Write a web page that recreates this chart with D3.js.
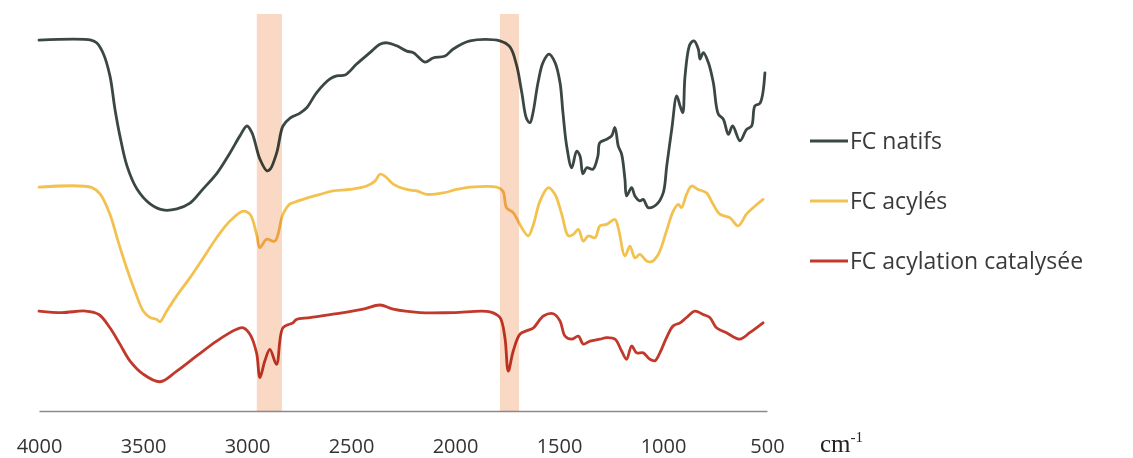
<!DOCTYPE html>
<html>
<head>
<meta charset="utf-8">
<script src="https://cdn.jsdelivr.net/npm/d3@7"></script>
<style>
  html, body { margin: 0; padding: 0; background: #fff; }
  svg { display: block; }
</style>
</head>
<body>
<svg id="chart" width="1133" height="458"></svg>
<script>
// FTIR spectra, wavenumber (cm-1) vs. stacked transmittance (a.u.)
const xTicks = [4000, 3500, 3000, 2500, 2000, 1500, 1000, 500];

const wnNatifs = [4000,3750,3723,3692,3659,3635,3611,3577,3529,3466,3404,3337,3274,3212,3144,3082,3034,3000,2976,2938,2904,2889,2857,2827,2793,2745,2713,2665,2601,2569,2529,2473,2409,2361,2328,2280,2232,2200,2144,2106,2048,2010,1928,1784,1736,1703,1679,1655,1639,1625,1601,1577,1548,1519,1495,1481,1463,1439,1415,1399,1385,1367,1337,1313,1304,1271,1247,1231,1215,1199,1183,1175,1151,1135,1111,1095,1071,1030,999,982,958,934,918,905,894,870,851,830,822,806,782,758,734,710,686,665,630,598,574,558,534,510];
const tNatifs = [97.6,97.6,96.9,94.2,88.2,79.5,72.4,64.5,58.4,54.5,52.9,53.2,54.7,58.4,62.6,67.9,72.4,75.0,73.2,66.3,63.2,63.6,68.0,75.0,77.1,78.4,79.8,83.8,87.4,88.2,88.4,91.3,94.3,96.5,96.9,96.1,94.7,94.3,91.8,92.9,93.4,95.2,97.4,97.4,95.8,90.8,83.8,76.8,75.9,78.5,86.4,91.7,93.9,91.7,86.4,78.5,69.7,64.0,68.4,67.1,62.4,64.0,63.6,67.1,70.6,71.5,72.4,74.6,69.7,67.6,61.0,56.6,58.8,56.6,55.3,55.7,53.5,54.4,57.4,64.5,74.1,82.9,80.3,78.5,88.2,96.5,97.4,95.2,92.6,94.3,91.7,86.4,78.1,76.8,72.8,75.0,71.1,74.1,75.0,80.3,81.0,89.0];

const wnAcyles = [4000,3745,3705,3659,3620,3579,3539,3499,3466,3434,3418,3386,3338,3274,3210,3146,3082,3018,2986,2954,2938,2906,2866,2827,2793,2779,2731,2649,2587,2505,2425,2385,2361,2337,2297,2232,2184,2136,2056,1992,1928,1800,1770,1752,1720,1688,1648,1623,1591,1551,1519,1487,1455,1431,1407,1383,1359,1327,1303,1271,1231,1215,1183,1159,1135,1111,1079,1055,1023,983,951,927,911,887,863,831,791,759,727,679,639,599,567,519];
const tAcyles = [58.9,58.8,57.0,51.8,44.7,37.7,31.6,26.3,24.6,24.1,23.5,26.3,30.3,35.1,40.3,45.6,50.0,52.6,51.8,46.5,43.0,45.2,44.7,51.8,54.5,54.8,55.7,57.0,57.9,58.3,59.2,60.5,62.3,61.8,59.7,58.3,57.9,57.0,57.4,58.3,58.9,58.9,57.9,53.5,52.2,49.1,46.1,49.1,55.3,58.8,57.0,51.8,46.1,46.5,47.8,44.7,46.1,45.6,48.7,49.1,50.4,48.2,40.8,43.4,40.3,41.2,39.5,39.3,41.2,47.4,52.6,54.4,53.5,57.0,59.2,58.3,57.4,54.4,51.8,50.9,48.7,51.8,53.5,55.7];

const wnCatalysee = [4000,3889,3776,3712,3659,3611,3563,3499,3418,3338,3242,3146,3050,3018,2986,2954,2938,2914,2890,2858,2827,2779,2762,2697,2569,2441,2361,2297,2168,2008,1832,1784,1760,1744,1720,1688,1656,1623,1575,1527,1495,1471,1439,1407,1383,1351,1303,1271,1231,1199,1175,1151,1127,1095,1063,1039,1015,983,951,918,887,847,807,775,743,695,631,583,519];
const tCatalysee = [26.3,25.9,26.3,25.4,21.9,17.6,13.2,9.7,7.7,10.5,14.5,18.4,21.5,21.9,20.2,15.3,8.8,13.2,16.2,12.3,21.9,23.2,24.1,24.6,25.6,26.8,27.9,26.8,25.9,25.9,26.1,24.6,19.3,10.5,15.8,20.2,21.1,21.9,25.0,25.6,23.7,19.7,18.9,19.7,17.6,18.4,18.9,19.3,18.9,15.8,13.6,17.1,15.3,15.3,13.6,13.2,15.3,19.3,22.4,23.2,24.6,26.3,25.4,24.6,21.9,20.6,18.9,20.6,23.2];

const seriesNames = ["FC natifs", "FC acylés", "FC acylation catalysée"];
const seriesColors = ["#3b4745", "#f2c14f", "#c0392b"];

// highlighted absorption regions (C-H stretch, C=O ester)
const bandStart = [2953, 1784];
const bandEnd = [2832, 1692];

const series = [
  { name: seriesNames[0], color: seriesColors[0], wn: wnNatifs, t: tNatifs },
  { name: seriesNames[1], color: seriesColors[1], wn: wnAcyles, t: tAcyles },
  { name: seriesNames[2], color: seriesColors[2], wn: wnCatalysee, t: tCatalysee }
];

const svg = d3.select("#chart");
const axisY = 411;

const x = d3.scaleLinear().domain([4000, 500]).range([39, 767]);
const y = d3.scaleLinear().domain([0, 100]).range([axisY, 31]);

// x axis
const axis = svg.append("g")
  .attr("transform", `translate(0,${axisY})`)
  .call(d3.axisBottom(x).tickValues(xTicks).tickSize(0).tickSizeOuter(0).tickPadding(28).tickFormat(d3.format("d")));
axis.select(".domain").attr("stroke", "#8a8a8a").attr("stroke-width", 1.6);
axis.selectAll("text")
  .attr("font-family", "'Open Sans', sans-serif")
  .attr("font-size", 20)
  .attr("fill", "#333");

const unit = svg.append("text")
  .attr("x", 820).attr("y", 452)
  .attr("font-family", "'Liberation Serif', serif")
  .attr("font-size", 25)
  .attr("fill", "#222");
unit.append("tspan").text("cm");
unit.append("tspan").attr("dy", -10).attr("font-size", 15).text("-1");

// spectra
const line = d3.line()
  .x(d => x(d[0]))
  .y(d => y(d[1]))
  .curve(d3.curveCatmullRom.alpha(0.5));

svg.append("g").selectAll("path")
  .data(series)
  .join("path")
  .attr("d", s => line(s.wn.map((w, i) => [w, s.t[i]])))
  .attr("fill", "none")
  .attr("stroke", s => s.color)
  .attr("stroke-width", 2.8)
  .attr("stroke-linejoin", "round")
  .attr("stroke-linecap", "round");

// highlight bands
svg.append("g").selectAll("rect")
  .data(bandStart.map((b, i) => [b, bandEnd[i]]))
  .join("rect")
  .attr("x", d => x(d[0]))
  .attr("width", d => x(d[1]) - x(d[0]))
  .attr("y", 14)
  .attr("height", axisY - 14)
  .attr("fill", "#f9d8c4")
  .style("mix-blend-mode", "multiply");

// legend
const legend = svg.append("g").selectAll("g")
  .data(series)
  .join("g")
  .attr("transform", (d, i) => `translate(810,${141 + i * 60})`);
legend.append("line")
  .attr("x1", 0).attr("x2", 38)
  .attr("stroke", d => d.color)
  .attr("stroke-width", 2.8);
legend.append("text")
  .attr("x", 40).attr("dy", "0.35em")
  .attr("font-family", "'Open Sans', sans-serif")
  .attr("font-size", 23)
  .attr("fill", "#3a3a3a")
  .text(d => d.name);
</script>
</body>
</html>
